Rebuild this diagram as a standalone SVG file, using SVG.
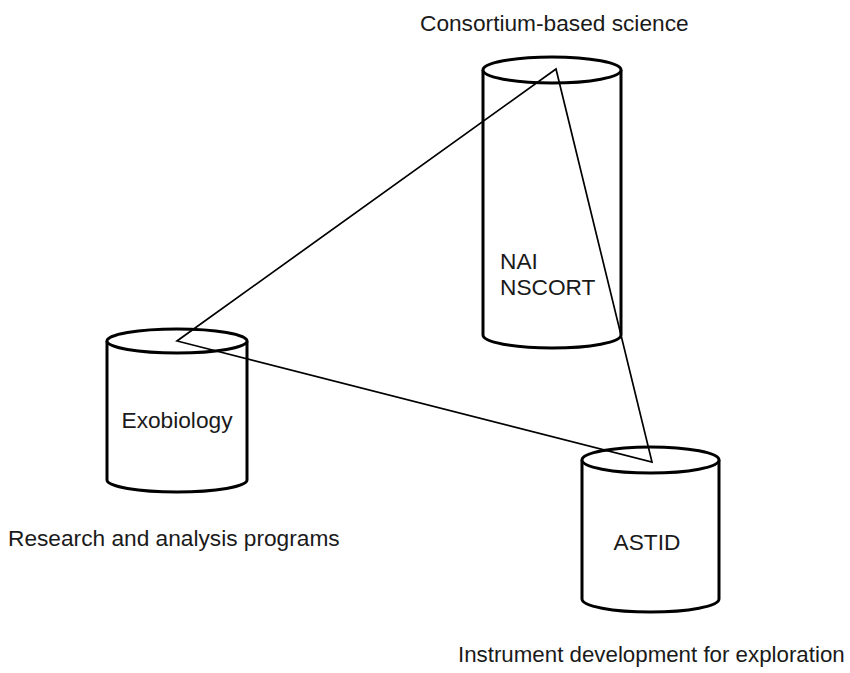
<svg xmlns="http://www.w3.org/2000/svg" width="850" height="673" viewBox="0 0 850 673">
<style>
.cyl{fill:#fff;stroke:#000;stroke-width:3}
.lbl{font-family:"Liberation Sans",Arial,sans-serif;font-size:22.7px;fill:#1a1a1a}
.conn{fill:none;stroke:#000;stroke-width:1.7;stroke-linejoin:miter}
</style>
<rect width="850" height="673" fill="#fff"/>
<g id="nai">
<path class="cyl" d="M483,70 L483,335 A69,13 0 0 0 621,335 L621,70"/>
<ellipse class="cyl" cx="552" cy="70" rx="69" ry="13"/>
<text class="lbl" x="500" y="269">NAI</text>
<text class="lbl" x="500" y="295">NSCORT</text>
</g>
<g id="exobiology">
<path class="cyl" d="M107,341 L107,480 A70,12 0 0 0 247,480 L247,341"/>
<ellipse class="cyl" cx="177" cy="341" rx="70" ry="12"/>
<text class="lbl" x="177" y="428" text-anchor="middle">Exobiology</text>
</g>
<g id="astid">
<path class="cyl" d="M582,460 L582,599 A68.5,13 0 0 0 719,599 L719,460"/>
<ellipse class="cyl" cx="650.5" cy="460" rx="68.5" ry="13"/>
<text class="lbl" x="647" y="550" text-anchor="middle">ASTID</text>
</g>
<g id="connectors">
<polygon class="conn" points="556,69 177,341 652,462"/>
</g>
<g id="captions">
<text class="lbl" x="420" y="31">Consortium-based science</text>
<text class="lbl" x="8" y="546">Research and analysis programs</text>
<text class="lbl" x="458" y="662" style="font-size:22.3px">Instrument development for exploration</text>
</g>
</svg>
